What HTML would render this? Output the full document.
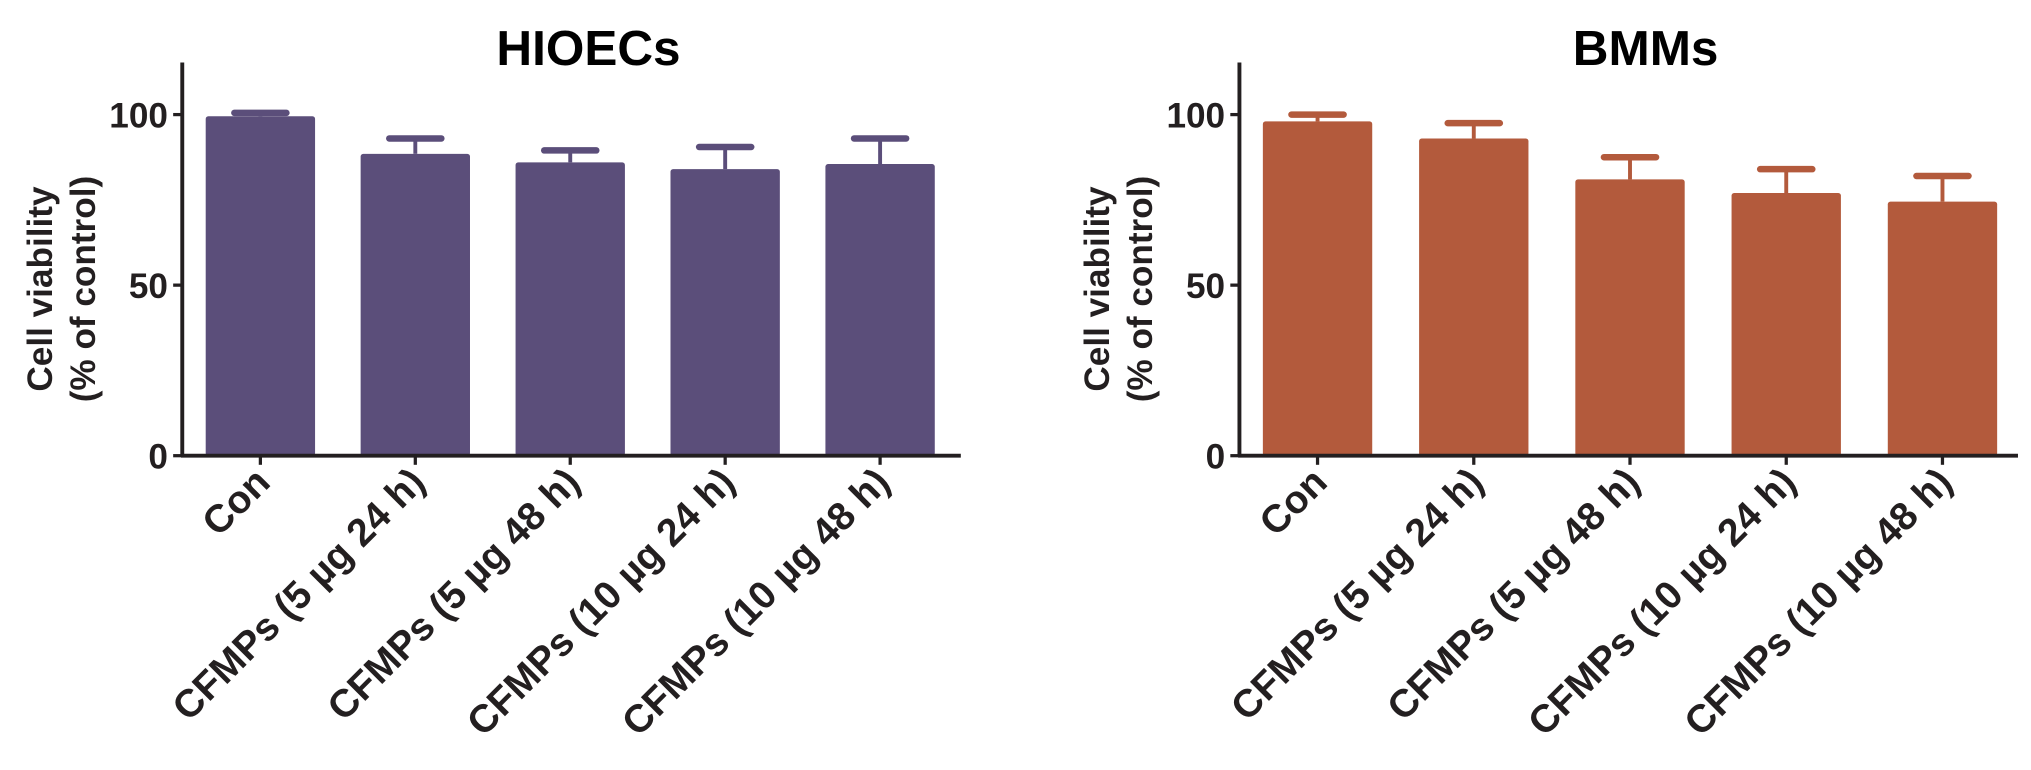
<!DOCTYPE html>
<html><head><meta charset="utf-8"><style>
html,body{margin:0;padding:0;background:#fff;}
svg{display:block;font-family:"Liberation Sans",Arial,sans-serif;font-weight:bold;}
</style></head><body>
<svg id="c" width="2031" height="770" viewBox="0 0 1560 591.4" xmlns="http://www.w3.org/2000/svg"></svg>
<script>
const categories = ["Con","CFMPs (5 µg 24 h)","CFMPs (5 µg 48 h)","CFMPs (10 µg 24 h)","CFMPs (10 µg 48 h)"];
const hioecValues = [99.5, 88.5, 86, 84, 85.5];
const hioecErrors = [1, 4.5, 3.5, 6.5, 7.5];
const bmmValues = [98, 93, 81, 77, 74.5];
const bmmErrors = [2, 4.5, 6.5, 7, 7.5];
const yTicks = [0, 50, 100];

const NS="http://www.w3.org/2000/svg";
const svg=document.getElementById('c');
function mk(tag,attrs,parent){const e=document.createElementNS(NS,tag);for(const k in attrs)e.setAttribute(k,attrs[k]);(parent||svg).appendChild(e);return e;}

function panel(name,title,axisX,step,values,errors,color){
  const g=mk('g',{});
  
  
  const y0=350, yTop=88;
  const y=v=>y0-(v/100)*(y0-yTop);
  const firstC=axisX+60, bw=84;
  const x=i=>firstC+i*step;
  values.forEach((v,i)=>{
    const cx=x(i);
    const eb=mk('line',{x1:cx,x2:cx,y1:y(v),y2:y(v+errors[i]),stroke:color,'stroke-width':3},g);
    
    
    const cap=mk('line',{x1:cx-20,x2:cx+20,y1:y(v+errors[i]),y2:y(v+errors[i]),stroke:color,'stroke-width':5,'stroke-linecap':'round'},g);
    
    
    const r=mk('rect',{x:cx-bw/2,y:y(v),width:bw,height:y0-y(v),fill:color,rx:2},g);
    
    
    const t=mk('text',{transform:`translate(${cx+9},${y0+22}) rotate(-45)`,'text-anchor':'end','font-size':30,fill:'#231f20'},g);
    t.textContent=categories[i];
    
    
  });
  const ya=mk('line',{x1:axisX,x2:axisX,y1:48,y2:y0+1,stroke:'#231f20','stroke-width':3},g);
  
  
  const xa=mk('line',{x1:axisX-1,x2:axisX+598,y1:y0,y2:y0,stroke:'#231f20','stroke-width':3},g);
  
  
  values.forEach((v,i)=>{
    const tk=mk('line',{x1:x(i),x2:x(i),y1:y0,y2:y0+7,stroke:'#231f20','stroke-width':2.5},g);
    
    
  });
  yTicks.forEach(tv=>{
    const tk=mk('line',{x1:axisX-7,x2:axisX,y1:y(tv),y2:y(tv),stroke:'#231f20','stroke-width':2.5},g);
    
    
    const t=mk('text',{x:axisX-11,y:y(tv)+10,'text-anchor':'end','font-size':27,fill:'#231f20'},g);
    t.textContent=tv;
    
    
  });
  const yl=mk('text',{transform:`translate(${axisX-100},222) rotate(-90)`,'text-anchor':'middle','font-size':27,fill:'#231f20'},g);
  
  
  const s1=mk('tspan',{x:0,dy:0},yl);s1.textContent='Cell viability';
  const s2=mk('tspan',{x:0,dy:33},yl);s2.textContent='(% of control)';
  const tt=mk('text',{x:axisX+312,y:50,'text-anchor':'middle','font-size':38,fill:'#000'},g);
  tt.textContent=title;
  
  
}
panel('hioecs','HIOECs',140,119,hioecValues,hioecErrors,'#5b4e7a');
panel('bmms','BMMs',952,120,bmmValues,bmmErrors,'#b35a3c');
</script>
</body></html>
